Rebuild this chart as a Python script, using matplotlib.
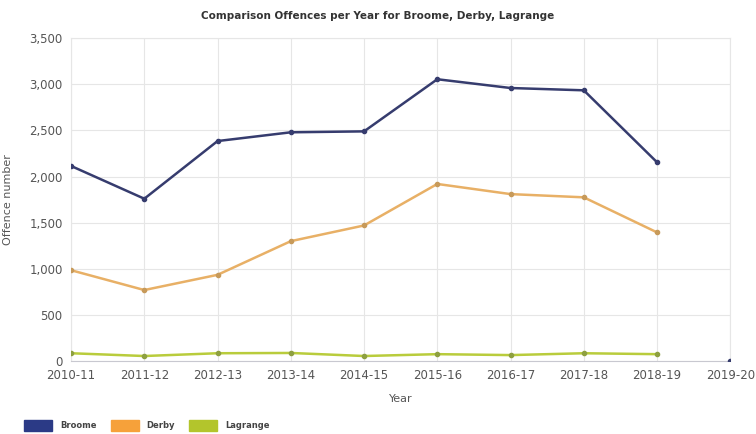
import matplotlib.pyplot as plt
from matplotlib.patches import Patch
from matplotlib.ticker import FuncFormatter

years = ["2010-11", "2011-12", "2012-13", "2013-14", "2014-15",
         "2015-16", "2016-17", "2017-18", "2018-19", "2019-20"]
broome = [2115, 1760, 2385, 2480, 2490, 3055, 2960, 2935, 2155, 0]
derby = [985, 770, 935, 1300, 1470, 1920, 1810, 1775, 1395]
lagrange = [85, 55, 85, 88, 55, 75, 65, 85, 75]

c_broome = "#2b3a86"
c_derby = "#f6a13a"
c_lagrange = "#b3c52c"

fig = plt.figure(figsize=(7.56, 4.34), dpi=100)
ax = fig.add_axes([0.094, 0.168, 0.872, 0.744])

x = list(range(len(years)))
ax.plot(x[:9], broome[:9], color="#363c6e", linewidth=1.8, marker="o", markersize=3, zorder=3)
ax.plot(x[9:], broome[9:], color="#363c6e", linestyle="none", marker="o", markersize=3, zorder=3)
ax.plot(x[:9], derby, color="#e8b066", linewidth=1.8, marker="o", markersize=3,
        markerfacecolor="#c79a5a", markeredgecolor="#c79a5a", zorder=3)
ax.plot(x[:9], lagrange, color="#b9cc3c", linewidth=1.8, marker="o", markersize=3,
        markerfacecolor="#8ea040", markeredgecolor="#8ea040", zorder=3)

ax.set_xlim(0, 9)
ax.set_ylim(0, 3500)
ax.set_xticks(x)
ax.set_xticklabels(years)
ax.set_yticks(range(0, 3501, 500))
ax.yaxis.set_major_formatter(FuncFormatter(lambda v, p: f"{int(v):,}"))
ax.tick_params(axis="both", length=0, labelsize=8.5, labelcolor="#555555", pad=6)
ax.grid(True, color="#e6e6e6", linewidth=0.8)
for s in ["top", "right", "left"]:
    ax.spines[s].set_color("#e6e6e6")
ax.spines["bottom"].set_color("#c8c8d0")
ax.set_axisbelow(True)

ax.set_xlabel("Year", fontsize=8, color="#555555", labelpad=8)
ax.set_ylabel("Offence number", fontsize=8, color="#555555", labelpad=12)
fig.text(0.5, 0.962, "Comparison Offences per Year for Broome, Derby, Lagrange",
         ha="center", va="center", fontsize=7.5, fontweight="bold", color="#333333")

handles = [Patch(color=c_broome, label="Broome"),
           Patch(color=c_derby, label="Derby"),
           Patch(color=c_lagrange, label="Lagrange")]
fig.legend(handles=handles, loc="lower left", bbox_to_anchor=(0.022, -0.01), ncol=3,
           frameon=False, prop={"size": 6, "weight": "bold"}, handlelength=3.4,
           handleheight=1.6, columnspacing=1.7, handletextpad=0.9, labelcolor="#444444")

fig.savefig("out.png", dpi=100)
